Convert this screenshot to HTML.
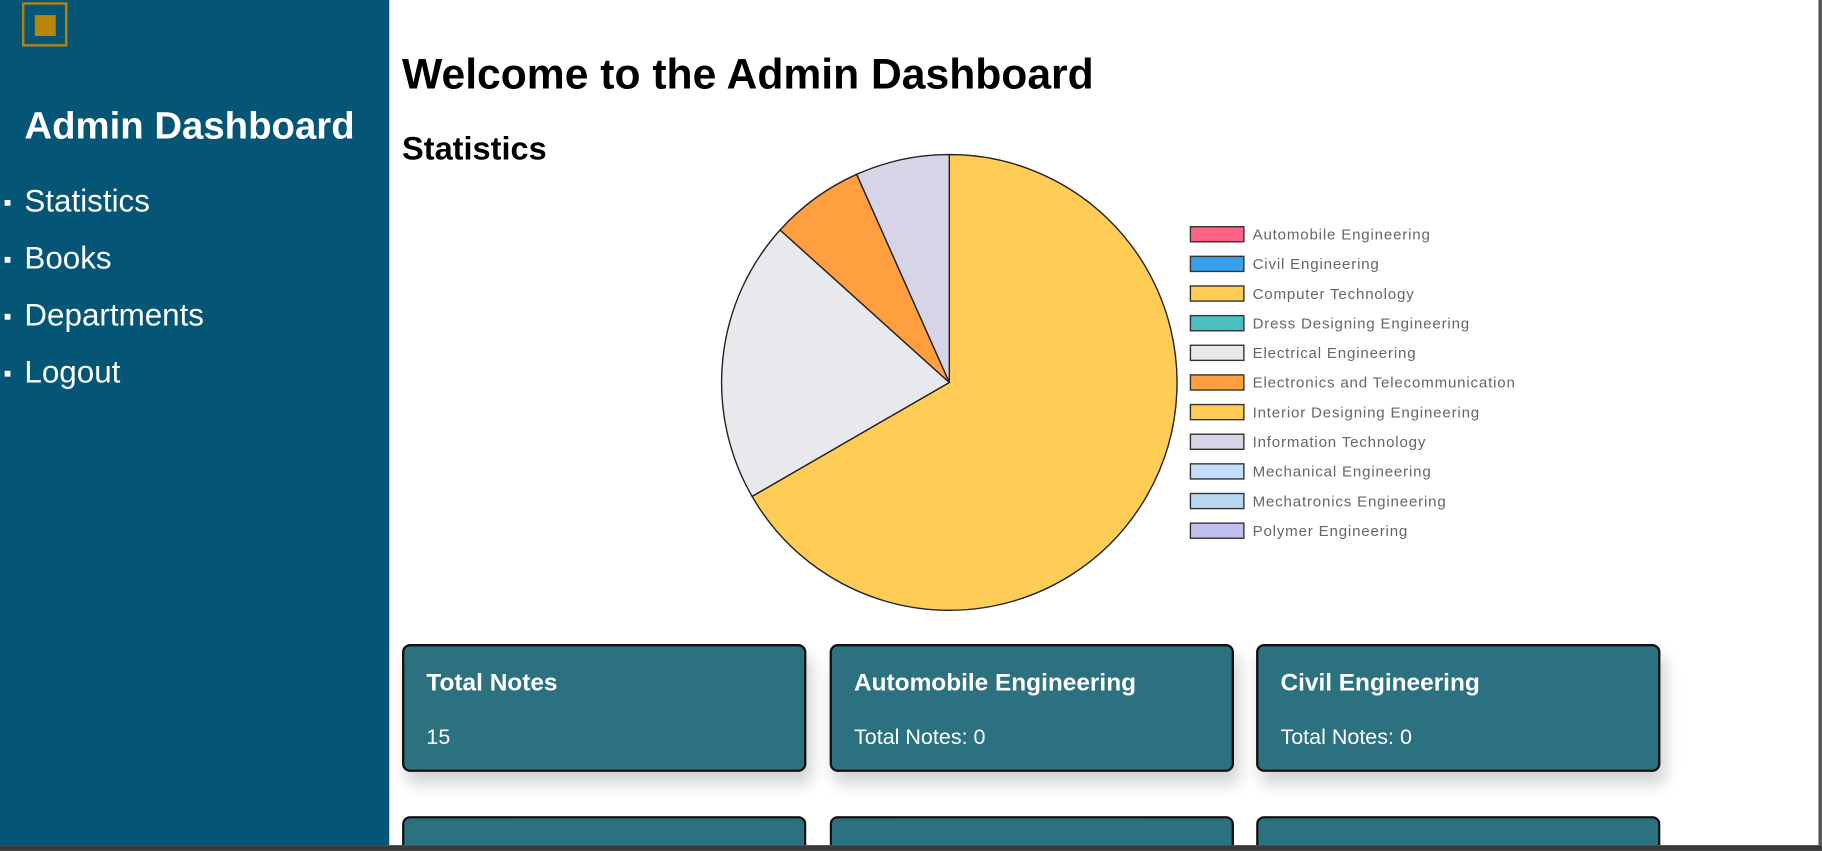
<!DOCTYPE html>
<html><head><meta charset="utf-8"><style>
html,body{margin:0;padding:0;width:1822px;height:851px;overflow:hidden;background:#fff;font-family:"Liberation Sans",Arial,sans-serif}
#wrap{position:absolute;left:0;top:0;width:1568px;height:731.9px;overflow:hidden;transform:scale(1.16195,1.1625);transform-origin:0 0;background:#fff}
#side{position:absolute;left:0;top:0;width:335px;height:727px;background:#055577}
.abs{position:absolute;white-space:nowrap}
.nav{position:absolute;left:21px;color:#fff;font-size:27px;line-height:30px}
.nav:before{content:"";position:absolute;left:-17px;top:14px;width:5px;height:5px;background:#fff}
.card{position:absolute;width:348px;height:110px;background:#2c7180;border:2px solid #111;border-radius:7px;box-shadow:4px 10px 14px rgba(0,0,0,0.18);box-sizing:border-box;color:#fff}
.card.cut{height:25px;border-bottom:none;border-radius:7px 7px 0 0;box-shadow:none}
.card .t{position:absolute;left:19px;top:20px;font-size:21px;font-weight:bold}
.card .v{position:absolute;left:19px;top:67px;font-size:18.5px}
</style></head><body>
<div id="wrap">
<div id="side">
  <div class="abs" style="left:19px;top:2px;width:35px;height:34px;border:2.5px solid #b8860b"><div style="position:absolute;left:9px;top:9px;width:18px;height:18px;background:#b8860b"></div></div>
  <div class="abs" style="left:21px;top:89px;font-size:33px;font-weight:bold;color:#fff">Admin Dashboard</div>
  <div class="nav" style="top:158px">Statistics</div>
  <div class="nav" style="top:207px">Books</div>
  <div class="nav" style="top:256px">Departments</div>
  <div class="nav" style="top:305px">Logout</div>
</div>
<div class="abs" style="left:346px;top:43px;font-size:36.7px;font-weight:bold;color:#000">Welcome to the Admin Dashboard</div>
<div class="abs" style="left:346px;top:112px;font-size:28px;font-weight:bold;color:#000">Statistics</div>
<svg id="chart" class="abs" style="left:0;top:0" width="1568" height="727"></svg>
<div class="card" style="left:346px;top:554px"><div class="t">Total Notes</div><div class="v">15</div></div>
<div class="card" style="left:714px;top:554px"><div class="t">Automobile Engineering</div><div class="v">Total Notes: 0</div></div>
<div class="card" style="left:1081px;top:554px"><div class="t">Civil Engineering</div><div class="v">Total Notes: 0</div></div>
<div class="card cut" style="left:346px;top:702px"></div>
<div class="card cut" style="left:714px;top:702px"></div>
<div class="card cut" style="left:1081px;top:702px"></div>
<div class="abs" style="left:0;top:727px;width:1568px;height:4.9px;background:#3a3a3a"></div>
<div class="abs" style="left:1565px;top:0;width:3px;height:727px;background:#555"></div>
</div>
<script>
const categories=["Automobile Engineering","Civil Engineering","Computer Technology","Dress Designing Engineering","Electrical Engineering","Electronics and Telecommunication","Interior Designing Engineering","Information Technology","Mechanical Engineering","Mechatronics Engineering","Polymer Engineering"];
const values=[0,0,10,0,3,1,0,1,0,0,0];
const colors=["#ff6384","#36a2eb","#ffcd56","#4bc0c0","#e7e9ed","#ff9f40","#ffcd56","#d8d4e8","#c2defc","#b8d6f0","#c0c0ee"];
const NS="http://www.w3.org/2000/svg";
const svg=document.getElementById('chart');
const cx=817,cy=329,r=196;
const total=values.reduce((a,b)=>a+b,0);
let a0=0;
function pt(a){return [cx+r*Math.sin(a),cy-r*Math.cos(a)];}
values.forEach((v,i)=>{
  if(v<=0)return;
  const a1=a0+v/total*2*Math.PI;
  const p0=pt(a0),p1=pt(a1);
  const large=(a1-a0)>Math.PI?1:0;
  const path=document.createElementNS(NS,'path');
  path.setAttribute('d',`M${cx},${cy} L${p0[0]},${p0[1]} A${r},${r} 0 ${large} 1 ${p1[0]},${p1[1]} Z`);
  path.setAttribute('fill',colors[i]);path.setAttribute('stroke','#222');path.setAttribute('stroke-width','1.2');
  
  
  svg.appendChild(path);
  a0=a1;
});
categories.forEach((c,i)=>{
  const y=195+i*25.5;
  const g=document.createElementNS(NS,'g');
  
  
  const rc=document.createElementNS(NS,'rect');
  rc.setAttribute('x',1024.5);rc.setAttribute('y',y);rc.setAttribute('width',46);rc.setAttribute('height',13);
  rc.setAttribute('fill',colors[i]);rc.setAttribute('stroke','#333');rc.setAttribute('stroke-width','1.2');
  const t=document.createElementNS(NS,'text');
  t.setAttribute('x',1078);t.setAttribute('y',y+11);t.setAttribute('font-size','13');t.setAttribute('fill','#666');
  t.setAttribute('letter-spacing','0.7');
  t.setAttribute('font-family','Liberation Sans, sans-serif');
  t.textContent=c;
  g.appendChild(rc);g.appendChild(t);svg.appendChild(g);
});
</script>
</body></html>
